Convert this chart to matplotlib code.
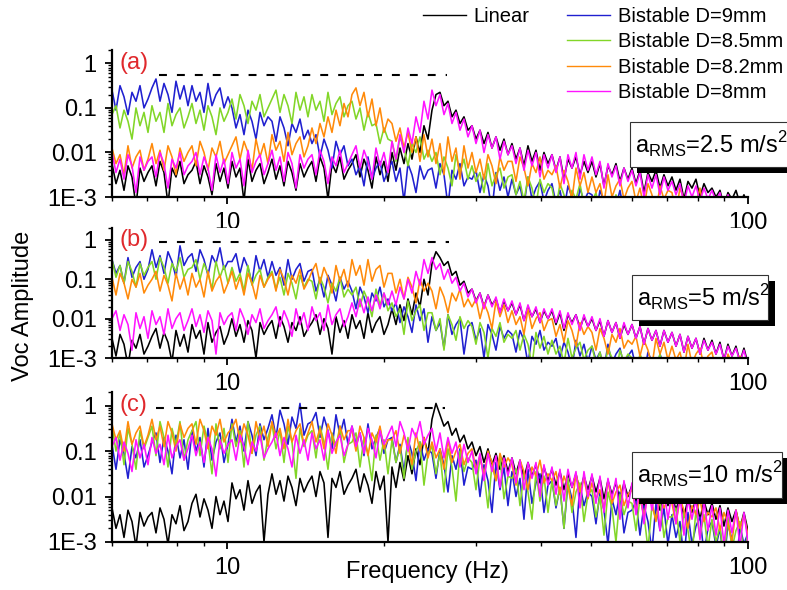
import numpy as np
import matplotlib.pyplot as plt
from matplotlib.lines import Line2D
from matplotlib.patches import Rectangle
from matplotlib.ticker import LogLocator, NullFormatter

plt.rcParams['font.family'] = ['Liberation Sans', 'DejaVu Sans']
plt.rcParams['mathtext.fontset'] = 'custom'
plt.rcParams['mathtext.rm'] = 'Liberation Sans'

# spectra sampled on a log frequency grid, 6..100 Hz
freq = np.geomspace(6, 100, 160)

labels = ['Linear', 'Bistable D=9mm', 'Bistable D=8.5mm', 'Bistable D=8.2mm', 'Bistable D=8mm']
colors = ['#000000', '#2020d0', '#82d628', '#ff8a0a', '#ff14ff']
accel = ['2.5', '5', '10']
panel_tags = ['(a)', '(b)', '(c)']

# dashed reference level for each panel
ref_level = [0.54, 0.89, 0.90]
ref_f0 = [7.4, 7.4, 7.3]
ref_f1 = [26.4, 26.6, 26.2]

# Voc amplitude in dB (20*log10 V), one row = 10 samples of the grid
# --- a_RMS = 2.5 m/s^2
lin_a = [-45, -54, -48, -57, -46, -51, -64, -47, -53, -49,
         -46, -55, -44, -49, -63, -47, -51, -44, -54, -50,
         -48, -44, -54, -46, -51, -59, -45, -53, -47, -56,
         -44, -51, -47, -62, -43, -53, -48, -45, -54, -49,
         -43, -52, -46, -55, -44, -49, -57, -45, -51, -47,
         -44, -53, -42, -47, -61, -45, -49, -42, -52, -48,
         -45, -41, -51, -43, -48, -56, -42, -50, -44, -53,
         -40, -48, -38, -45, -36, -43, -33, -40, -28, -34,
         -21, -14, -13, -19, -17, -24, -21, -27, -24, -30,
         -28, -34, -30, -36, -31, -38, -33, -39, -34, -41,
         -36, -43, -38, -46, -37, -44, -39, -48, -40, -45,
         -41, -48, -42, -52, -43, -47, -42, -50, -44, -49,
         -44, -51, -45, -55, -46, -50, -45, -53, -47, -52,
         -47, -54, -48, -58, -49, -53, -48, -56, -50, -55,
         -51, -57, -52, -61, -53, -56, -52, -60, -54, -58,
         -56, -60, -57, -64, -58, -61, -57, -63, -59, -64]
d90_a = [-12, -21, -10, -15, -23, -13, -17, -10, -20, -16,
         -11, -7, -17, -9, -14, -22, -8, -16, -10, -19,
         -10, -17, -13, -22, -9, -19, -14, -11, -20, -15,
         -20, -29, -23, -32, -21, -26, -34, -22, -28, -24,
         -26, -35, -24, -29, -37, -27, -31, -25, -34, -30,
         -36, -32, -42, -34, -39, -47, -35, -41, -37, -46,
         -43, -50, -46, -55, -42, -52, -47, -44, -53, -48,
         -44, -53, -47, -62, -45, -50, -58, -46, -52, -48,
         -47, -56, -45, -50, -64, -48, -52, -45, -55, -51,
         -52, -48, -58, -50, -55, -66, -49, -57, -51, -60,
         -52, -59, -55, -64, -51, -61, -56, -53, -62, -57,
         -54, -63, -57, -66, -55, -60, -68, -56, -62, -58,
         -59, -68, -57, -62, -70, -60, -64, -57, -67, -63,
         -64, -60, -70, -62, -67, -75, -61, -69, -63, -72,
         -64, -71, -67, -76, -63, -73, -68, -65, -74, -69,
         -66, -75, -69, -78, -67, -72, -80, -68, -74, -70]
d85_a = [-23, -19, -29, -21, -26, -34, -20, -28, -22, -31,
         -19, -26, -22, -31, -18, -28, -23, -20, -29, -24,
         -18, -27, -21, -30, -19, -24, -32, -20, -26, -22,
         -16, -25, -14, -19, -27, -17, -21, -14, -24, -20,
         -16, -12, -22, -14, -19, -27, -13, -21, -15, -24,
         -14, -21, -17, -26, -13, -23, -18, -15, -24, -19,
         -17, -25, -20, -30, -22, -28, -27, -36, -29, -34,
         -35, -44, -33, -38, -46, -36, -40, -33, -43, -39,
         -44, -40, -50, -42, -47, -55, -41, -49, -43, -52,
         -46, -53, -49, -58, -45, -55, -50, -47, -56, -51,
         -50, -59, -53, -62, -51, -56, -64, -52, -58, -54,
         -56, -65, -54, -59, -67, -57, -61, -54, -64, -60,
         -62, -58, -68, -60, -65, -73, -59, -67, -61, -70,
         -62, -69, -65, -74, -61, -71, -66, -63, -72, -67,
         -64, -73, -67, -76, -65, -70, -78, -66, -72, -68,
         -69, -78, -67, -72, -80, -70, -74, -67, -77, -73]
d82_a = [-38, -45, -41, -50, -37, -47, -42, -39, -48, -43,
         -36, -45, -39, -48, -37, -42, -50, -38, -44, -40,
         -37, -46, -35, -40, -48, -38, -42, -35, -45, -41,
         -37, -33, -43, -35, -40, -48, -34, -42, -36, -45,
         -32, -39, -35, -44, -31, -41, -36, -33, -42, -37,
         -29, -36, -27, -33, -24, -31, -21, -28, -18, -24,
         -14, -11, -19, -13, -24, -16, -28, -20, -31, -25,
         -27, -35, -29, -38, -31, -40, -33, -44, -32, -42,
         -34, -45, -36, -50, -33, -44, -38, -52, -37, -47,
         -40, -49, -43, -52, -41, -46, -54, -42, -48, -44,
         -44, -53, -42, -47, -55, -45, -49, -42, -52, -48,
         -50, -46, -56, -48, -53, -61, -47, -55, -49, -58,
         -51, -58, -54, -63, -50, -60, -55, -52, -61, -56,
         -53, -62, -56, -65, -54, -59, -67, -55, -61, -57,
         -58, -67, -56, -61, -69, -59, -63, -56, -66, -62,
         -64, -60, -70, -62, -67, -75, -61, -69, -63, -72]
d80_a = [-40, -49, -43, -52, -41, -46, -58, -42, -48, -44,
         -42, -51, -40, -45, -56, -43, -47, -40, -50, -46,
         -44, -40, -50, -42, -47, -57, -41, -49, -43, -54,
         -40, -47, -43, -55, -39, -49, -44, -41, -50, -45,
         -39, -48, -42, -53, -40, -45, -56, -41, -47, -43,
         -41, -50, -39, -44, -54, -42, -46, -39, -49, -45,
         -41, -37, -47, -39, -44, -52, -38, -46, -40, -49,
         -35, -43, -32, -40, -29, -36, -24, -31, -17, -25,
         -12, -19, -14, -23, -18, -27, -22, -30, -25, -33,
         -28, -36, -30, -40, -32, -38, -33, -43, -35, -41,
         -37, -45, -38, -48, -39, -46, -40, -51, -41, -47,
         -41, -49, -42, -54, -41, -47, -40, -52, -41, -48,
         -42, -50, -44, -56, -45, -51, -46, -55, -47, -53,
         -48, -55, -49, -60, -50, -56, -50, -59, -51, -57,
         -53, -59, -54, -63, -55, -60, -55, -62, -56, -61,
         -57, -62, -58, -66, -59, -63, -60, -66, -60, -67]

# --- a_RMS = 5 m/s^2
lin_b = [-50, -59, -48, -53, -64, -51, -55, -48, -58, -54,
         -49, -45, -55, -47, -52, -62, -46, -54, -48, -57,
         -43, -50, -46, -58, -42, -52, -47, -44, -53, -48,
         -40, -49, -43, -52, -41, -46, -60, -42, -48, -44,
         -41, -50, -39, -44, -52, -42, -46, -39, -49, -45,
         -42, -38, -48, -40, -45, -58, -39, -47, -41, -50,
         -38, -45, -41, -50, -37, -47, -42, -39, -48, -43,
         -35, -43, -33, -41, -30, -38, -27, -34, -20, -28,
         -12, -6, -9, -13, -11, -18, -16, -23, -21, -27,
         -25, -31, -27, -34, -28, -33, -30, -37, -31, -36,
         -32, -38, -33, -41, -34, -39, -35, -42, -36, -40,
         -36, -43, -37, -46, -38, -42, -38, -45, -39, -44,
         -40, -46, -41, -49, -41, -47, -42, -50, -43, -48,
         -43, -50, -44, -53, -45, -51, -46, -54, -46, -52,
         -47, -54, -48, -57, -49, -55, -50, -58, -50, -56,
         -51, -58, -52, -61, -53, -59, -54, -62, -55, -63]
d90_b = [-10, -17, -13, -22, -9, -19, -14, -11, -20, -15,
         -5, -14, -8, -17, -6, -11, -19, -3, -13, -9,
         -7, -16, -5, -10, -18, -8, -12, -4, -15, -11,
         -11, -7, -17, -9, -14, -22, -8, -16, -10, -19,
         -11, -18, -14, -23, -10, -20, -15, -12, -21, -16,
         -15, -26, -20, -29, -18, -23, -31, -19, -25, -21,
         -26, -35, -24, -29, -37, -27, -31, -24, -34, -30,
         -36, -32, -42, -34, -39, -47, -33, -41, -35, -52,
         -39, -46, -42, -55, -38, -48, -43, -40, -58, -44,
         -42, -51, -45, -60, -43, -48, -56, -44, -50, -46,
         -48, -57, -46, -51, -63, -49, -53, -46, -56, -52,
         -54, -50, -60, -52, -57, -65, -51, -59, -53, -62,
         -54, -61, -57, -66, -53, -63, -58, -55, -64, -59,
         -56, -65, -59, -68, -57, -62, -70, -58, -64, -60,
         -62, -71, -60, -65, -73, -63, -67, -60, -70, -66,
         -67, -63, -73, -65, -70, -78, -64, -72, -66, -75]
d85_b = [-10, -19, -13, -22, -11, -16, -24, -12, -18, -14,
         -11, -20, -9, -14, -22, -12, -16, -9, -19, -15,
         -14, -10, -20, -12, -17, -25, -11, -19, -13, -22,
         -14, -21, -17, -26, -13, -23, -18, -15, -24, -19,
         -16, -25, -19, -28, -17, -22, -30, -18, -24, -20,
         -21, -30, -19, -24, -32, -22, -26, -19, -29, -25,
         -28, -24, -34, -26, -31, -39, -25, -33, -27, -36,
         -32, -39, -35, -48, -31, -41, -36, -33, -46, -37,
         -37, -46, -40, -56, -38, -43, -51, -39, -45, -41,
         -44, -53, -42, -47, -60, -45, -49, -42, -52, -48,
         -50, -46, -56, -48, -53, -64, -47, -55, -49, -58,
         -51, -58, -54, -63, -50, -60, -55, -52, -61, -56,
         -54, -63, -57, -66, -55, -60, -68, -56, -62, -58,
         -60, -69, -58, -63, -71, -61, -65, -58, -68, -64,
         -65, -61, -71, -63, -68, -76, -62, -70, -64, -73,
         -65, -72, -68, -77, -64, -74, -69, -66, -75, -70]
d82_b = [-19, -28, -17, -22, -30, -20, -24, -17, -27, -23,
         -20, -16, -26, -18, -23, -31, -17, -25, -19, -28,
         -17, -24, -20, -29, -16, -26, -21, -18, -27, -22,
         -16, -25, -19, -28, -17, -22, -30, -18, -24, -20,
         -17, -26, -15, -20, -28, -18, -22, -15, -25, -21,
         -16, -12, -22, -14, -19, -27, -13, -21, -15, -24,
         -10, -18, -13, -23, -10, -21, -15, -13, -24, -17,
         -17, -27, -20, -30, -19, -24, -32, -20, -26, -22,
         -26, -35, -24, -29, -37, -27, -31, -25, -34, -30,
         -34, -30, -40, -32, -37, -45, -31, -39, -33, -42,
         -36, -43, -39, -48, -35, -45, -40, -37, -46, -41,
         -40, -49, -43, -52, -41, -46, -54, -42, -48, -44,
         -47, -56, -45, -50, -58, -48, -52, -45, -55, -51,
         -53, -49, -59, -51, -56, -64, -50, -58, -52, -61,
         -54, -61, -57, -66, -53, -63, -58, -55, -64, -59,
         -57, -66, -60, -69, -58, -63, -71, -59, -65, -61]
d80_b = [-40, -36, -46, -38, -43, -56, -37, -45, -39, -50,
         -36, -43, -39, -48, -35, -45, -40, -37, -46, -41,
         -35, -44, -38, -47, -36, -41, -58, -37, -43, -39,
         -37, -46, -35, -40, -48, -38, -42, -35, -45, -41,
         -38, -34, -44, -36, -41, -49, -35, -43, -37, -46,
         -34, -41, -37, -46, -33, -43, -38, -35, -44, -39,
         -32, -39, -30, -37, -29, -36, -28, -35, -27, -33,
         -26, -33, -24, -30, -20, -27, -16, -23, -10, -17,
         -9, -15, -12, -20, -15, -22, -19, -26, -22, -29,
         -25, -32, -27, -35, -28, -34, -29, -37, -30, -36,
         -31, -38, -32, -41, -33, -39, -34, -42, -35, -40,
         -35, -42, -36, -45, -37, -43, -38, -46, -38, -44,
         -39, -46, -40, -49, -41, -47, -42, -50, -42, -48,
         -43, -50, -44, -53, -45, -51, -46, -54, -46, -52,
         -47, -54, -48, -57, -49, -55, -50, -58, -51, -56,
         -52, -58, -53, -61, -54, -59, -55, -62, -56, -64]

# --- a_RMS = 10 m/s^2
lin_c = [-45, -54, -48, -58, -46, -51, -62, -47, -53, -49,
         -47, -56, -45, -50, -61, -48, -52, -44, -55, -51,
         -43, -39, -49, -41, -46, -54, -40, -48, -42, -51,
         -34, -41, -37, -46, -33, -43, -38, -35, -60, -39,
         -30, -39, -33, -42, -31, -36, -44, -32, -38, -34,
         -31, -40, -29, -34, -58, -32, -36, -29, -39, -35,
         -32, -28, -38, -30, -35, -43, -29, -37, -31, -60,
         -27, -36, -25, -33, -22, -30, -19, -26, -14, -21,
         -6, 1, -4, -9, -7, -13, -10, -16, -13, -19,
         -16, -22, -18, -25, -19, -26, -21, -28, -22, -29,
         -23, -30, -24, -32, -25, -31, -26, -34, -27, -33,
         -28, -35, -29, -37, -30, -36, -30, -38, -31, -37,
         -31, -38, -32, -41, -33, -39, -34, -42, -34, -40,
         -35, -42, -36, -45, -37, -43, -37, -46, -38, -44,
         -39, -46, -40, -49, -41, -47, -41, -50, -42, -48,
         -43, -50, -44, -53, -45, -51, -46, -54, -47, -55]
d90_c = [-17, -28, -15, -21, -32, -18, -23, -15, -27, -22,
         -16, -12, -25, -14, -20, -30, -13, -23, -15, -28,
         -11, -20, -14, -27, -10, -24, -16, -12, -25, -17,
         -6, -16, -9, -20, -7, -13, -22, -8, -15, -10,
         -4, -14, -2, -8, -17, -5, -10, 1, -13, -8,
         -7, -3, -14, -5, -11, -19, -4, -13, -6, -17,
         -9, -17, -12, -22, -8, -19, -14, -10, -21, -15,
         -14, -25, -17, -29, -15, -21, -33, -16, -24, -19,
         -21, -32, -19, -26, -38, -22, -28, -19, -35, -27,
         -28, -24, -40, -26, -33, -47, -25, -37, -27, -44,
         -29, -40, -32, -50, -28, -43, -34, -30, -47, -35,
         -33, -45, -36, -54, -34, -41, -58, -35, -44, -38,
         -40, -52, -38, -46, -61, -41, -48, -38, -56, -47,
         -46, -42, -57, -44, -51, -64, -43, -55, -45, -61,
         -48, -58, -51, -68, -47, -61, -53, -49, -65, -54,
         -51, -62, -54, -70, -52, -59, -72, -53, -61, -56]
d85_c = [-9, -20, -12, -26, -10, -17, -28, -11, -19, -14,
         -9, -22, -7, -14, -27, -10, -17, -7, -24, -15,
         -11, -7, -22, -9, -16, -30, -8, -19, -10, -25,
         -8, -18, -11, -27, -7, -21, -13, -9, -24, -14,
         -8, -19, -11, -25, -9, -16, -32, -10, -18, -13,
         -11, -23, -9, -16, -28, -12, -18, -9, -25, -17,
         -16, -12, -27, -14, -21, -33, -13, -24, -15, -30,
         -15, -25, -18, -32, -14, -28, -20, -16, -35, -21,
         -18, -30, -21, -38, -19, -27, -42, -20, -29, -23,
         -25, -37, -23, -30, -45, -26, -33, -23, -41, -31,
         -32, -28, -44, -30, -38, -50, -29, -42, -31, -47,
         -33, -44, -36, -54, -32, -47, -38, -34, -51, -39,
         -37, -49, -40, -57, -38, -45, -60, -39, -48, -42,
         -43, -55, -41, -48, -63, -44, -50, -41, -58, -49,
         -49, -45, -60, -47, -55, -66, -46, -58, -48, -63,
         -50, -60, -53, -68, -49, -63, -55, -51, -66, -56]
d82_c = [-8, -15, -11, -20, -7, -17, -12, -9, -18, -13,
         -6, -15, -9, -18, -7, -12, -20, -8, -14, -10,
         -8, -17, -6, -11, -19, -9, -13, -6, -16, -12,
         -10, -6, -16, -8, -13, -21, -7, -15, -9, -18,
         -7, -14, -10, -19, -6, -16, -11, -8, -17, -12,
         -7, -16, -10, -19, -8, -13, -21, -9, -15, -11,
         -11, -20, -9, -14, -22, -12, -16, -9, -19, -15,
         -15, -11, -21, -13, -18, -26, -12, -20, -14, -23,
         -16, -23, -19, -28, -15, -25, -20, -17, -26, -21,
         -19, -28, -22, -31, -20, -25, -33, -21, -27, -23,
         -26, -35, -24, -29, -37, -27, -31, -24, -34, -30,
         -33, -29, -39, -31, -36, -44, -30, -38, -32, -41,
         -34, -41, -37, -46, -33, -43, -38, -35, -44, -39,
         -37, -46, -40, -49, -38, -43, -51, -39, -45, -41,
         -43, -52, -41, -46, -54, -44, -48, -41, -51, -47,
         -49, -45, -55, -47, -52, -60, -46, -54, -48, -57]
d80_c = [-18, -14, -24, -16, -21, -29, -15, -23, -17, -26,
         -14, -21, -17, -26, -13, -23, -18, -15, -24, -19,
         -13, -22, -16, -25, -14, -19, -31, -15, -21, -17,
         -15, -24, -13, -18, -26, -16, -20, -13, -23, -19,
         -16, -12, -22, -14, -19, -27, -13, -21, -15, -24,
         -12, -19, -15, -24, -11, -21, -16, -13, -22, -17,
         -9, -18, -12, -21, -10, -15, -23, -11, -17, -13,
         -9, -18, -7, -12, -20, -10, -14, -7, -17, -13,
         -10, -20, -12, -23, -14, -21, -16, -27, -17, -25,
         -20, -30, -21, -33, -21, -29, -22, -36, -23, -31,
         -23, -34, -24, -37, -25, -32, -25, -40, -26, -35,
         -27, -39, -28, -42, -28, -36, -29, -45, -29, -40,
         -30, -43, -31, -47, -32, -41, -32, -50, -33, -45,
         -34, -48, -35, -52, -36, -46, -36, -55, -37, -50,
         -38, -52, -39, -57, -41, -50, -41, -59, -42, -55,
         -44, -57, -45, -61, -46, -56, -46, -62, -47, -60]

panels = [[lin_a, d90_a, d85_a, d82_a, d80_a],
          [lin_b, d90_b, d85_b, d82_b, d80_b],
          [lin_c, d90_c, d85_c, d82_c, d80_c]]

fig = plt.figure(figsize=(7.87, 5.9), dpi=100)

# axes rectangles in figure fraction (left, bottom, width, height)
rects = [(0.1423, 0.6661, 0.8081, 0.2492),
         (0.1423, 0.3932, 0.8081, 0.2203),
         (0.1423, 0.0814, 0.8081, 0.2542)]
# a_RMS boxes in pixels: x0, y0(top), x1, y1(bottom)
boxes = [(630, 122, 800, 167), (632, 275, 768, 320), (632, 452, 782, 498)]

W, H = 787, 590
for k, series in enumerate(panels):
    ax = fig.add_axes(rects[k])
    for db, c in zip(series, colors):
        ax.plot(freq, 10 ** (np.array(db) / 20.0), color=c, lw=1.15)
    ax.hlines(ref_level[k], ref_f0[k], ref_f1[k], colors='black', lw=1.5,
              linestyles=(0, (3.8, 4.8)))
    ax.set_xscale('log')
    ax.set_yscale('log')
    ax.set_xlim(6, 100)
    ax.set_ylim(1e-3, 2)
    ax.spines['top'].set_visible(False)
    ax.spines['right'].set_visible(False)
    ax.spines['left'].set_linewidth(1.6)
    ax.spines['bottom'].set_linewidth(1.6)
    ax.set_xticks([10, 100])
    ax.set_xticklabels(['10', '100'])
    ax.xaxis.set_minor_locator(LogLocator(base=10, subs=np.arange(2, 10)))
    ax.xaxis.set_minor_formatter(NullFormatter())
    ax.set_yticks([1e-3, 1e-2, 1e-1, 1])
    ax.set_yticklabels(['1E-3', '0.01', '0.1', '1'])
    ax.yaxis.set_minor_locator(LogLocator(base=10, subs=np.arange(2, 10)))
    ax.yaxis.set_minor_formatter(NullFormatter())
    ax.tick_params(which='major', direction='out', length=5, width=1.3,
                   labelsize=17, pad=6)
    ax.tick_params(which='minor', direction='out', length=3, width=1.0)
    ax.text(0.012, 0.91, panel_tags[k], transform=ax.transAxes, color='#e0282c',
            fontsize=17, va='center', ha='left')

    # a_RMS label box with drop shadow
    x0, y0, x1, y1 = boxes[k]
    fig.add_artist(Rectangle(((x0 + 7) / W, 1 - (y1 + 6) / H), (x1 - x0) / W, (y1 - y0) / H,
                             transform=fig.transFigure, fc='black', ec='none'))
    fig.add_artist(Rectangle((x0 / W, 1 - y1 / H), (x1 - x0) / W, (y1 - y0) / H,
                             transform=fig.transFigure, fc='white', ec='#333333', lw=0.8))
    fig.text((x0 + 5) / W, 1 - (y0 + y1) / 2 / H,
             r'a$_{\rm RMS}$=' + accel[k] + r' m/s$^{2}$', fontsize=17,
             ha='left', va='center')

fig.text(23 / W, 1 - 306 / H, 'Voc Amplitude', rotation=90, fontsize=17,
         ha='center', va='center')
fig.text(428 / W, 1 - 572 / H, 'Frequency (Hz)', fontsize=17, ha='center', va='center')

# legend split in two columns: Linear alone, then the bistable cases
handles = [Line2D([], [], color=c, lw=1.0) for c in colors]
fig.legend(handles[:1], labels[:1], loc='upper left', bbox_to_anchor=(423 / W, 1 - 7 / H),
           frameon=False, fontsize=14.5, handlelength=2.15, handletextpad=0.35,
           borderpad=0, borderaxespad=0)
fig.legend(handles[1:], labels[1:], loc='upper left', bbox_to_anchor=(567 / W, 1 - 7 / H),
           frameon=False, fontsize=14.5, handlelength=2.15, handletextpad=0.4,
           labelspacing=0.32, borderpad=0, borderaxespad=0)

fig.savefig('out.png', dpi=100)
